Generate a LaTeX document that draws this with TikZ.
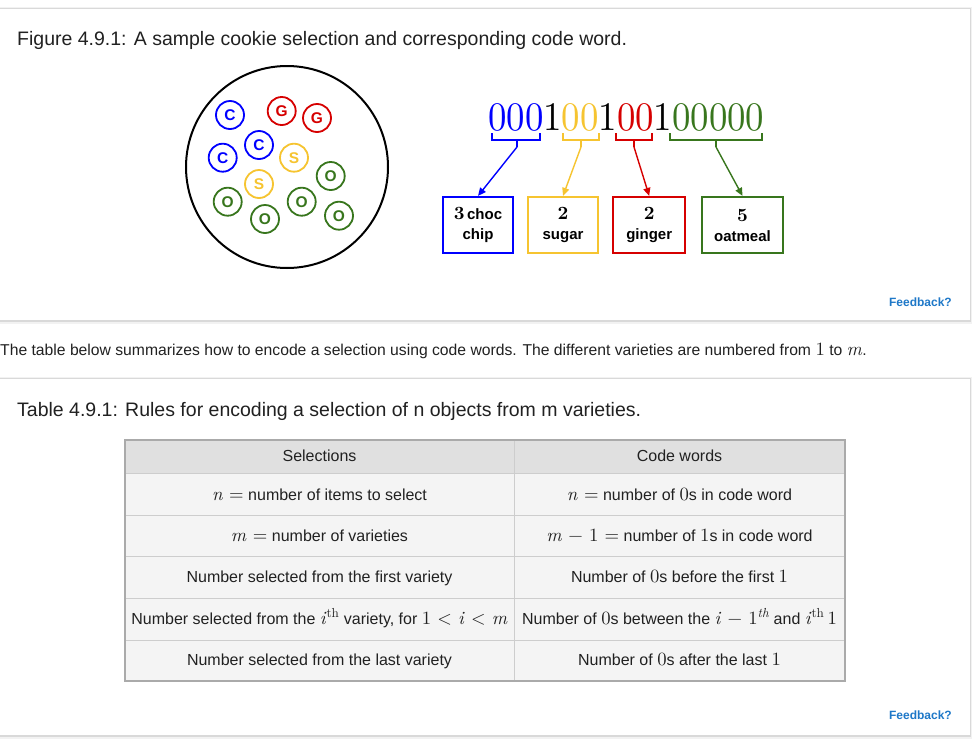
\documentclass[tikz,border=0pt]{standalone}
\usepackage{fontspec}
\setmainfont{Liberation Sans}
\newfontfamily\lmr{lmroman10}[Extension=.otf,UprightFont=*-regular,ItalicFont=*-italic,BoldFont=*-bold]
\usetikzlibrary{arrows.meta}
\definecolor{cblue}{RGB}{0,0,255}
\definecolor{cred}{RGB}{214,0,0}
\definecolor{cyel}{RGB}{246,196,48}
\definecolor{cgreen}{RGB}{56,118,29}
\definecolor{txt}{RGB}{33,33,33}
\definecolor{fb}{RGB}{30,120,200}
\definecolor{hdr}{RGB}{224,224,224}
\definecolor{rowbg}{RGB}{244,244,244}
\definecolor{outerc}{RGB}{170,170,170}
\definecolor{innerc}{RGB}{205,205,205}
\newcommand\mth[1]{{\lmr\fontsize{18.7}{19}\selectfont #1}}
\newcommand\vi[1]{\textit{#1}}
\tikzset{
  cookie/.style={circle,draw=#1,line width=1.8pt,minimum size=28pt,inner sep=0pt,text=#1,font=\fontsize{15.5}{15.5}\selectfont\bfseries},
  cbox/.style={draw=#1,line width=2.2pt,minimum height=56pt,inner sep=0pt,align=center,font=\fontsize{15}{20}\selectfont\bfseries,text=black},
  brk/.style={draw=#1,line width=2pt},
  arr/.style={draw=#1,line width=1.4pt,-{Triangle[length=8pt,width=7pt]}},
  captxt/.style={anchor=base west,inner sep=0pt,text=txt,font=\fontsize{19.5}{20}\selectfont},
  celltxt/.style={anchor=base,inner sep=0pt,text=txt,font=\fontsize{16}{16}\selectfont},
  fbtxt/.style={anchor=base east,inner sep=0pt,text=fb,font=\fontsize{12}{12}\selectfont\bfseries},
  card/.style={fill=white}
}
\begin{document}
\begin{tikzpicture}[x=1pt,y=-1pt]
\useasboundingbox (0,0) rectangle (977,742);
\fill[white] (0,0) rectangle (977,742);
% card 1
\fill[black!5] (-5,7) rectangle (972,324);
\fill[black!15] (-5,8) rectangle (971,322);
\fill[card] (-5,9) rectangle (970,320);
% card 2
\fill[black!5] (-5,377) rectangle (972,739);
\fill[black!15] (-5,378) rectangle (971,737);
\fill[card] (-5,379) rectangle (970,735);

\node[captxt] (fcap) at (17,45) {Figure 4.9.1: A sample cookie selection and corresponding code word.};

% cookie jar
\node[circle,draw=black,line width=2pt,minimum size=202pt,inner sep=0pt] (jar) at (287,167) {};
\node[cookie=cblue] (c1) at (230,115) {C};
\node[cookie=cred] (g1) at (281.7,111) {G};
\node[cookie=cred] (g2) at (317,118) {G};
\node[cookie=cblue] (c2) at (259,145) {C};
\node[cookie=cblue] (c3) at (222.7,157.7) {C};
\node[cookie=cyel] (s1) at (294,157.7) {S};
\node[cookie=cgreen] (o1) at (330.7,176) {O};
\node[cookie=cyel] (s2) at (259,184) {S};
\node[cookie=cgreen] (o2) at (227.7,201.7) {O};
\node[cookie=cgreen] (o3) at (301.7,201.7) {O};
\node[cookie=cgreen] (o4) at (265,219) {O};
\node[cookie=cgreen] (o5) at (339,215.7) {O};

% code word
\node[anchor=base west,inner sep=0pt] (cw) at (488,130) {\scalebox{1}[1.1]{\lmr\fontsize{36.8}{37}\selectfont\textcolor{cblue}{000}1\textcolor{cyel}{00}1\textcolor{cred}{00}1\textcolor{cgreen}{00000}}};

% brackets
\draw[brk=cblue] (491.7,133) -- (491.7,140) -- (540,140) -- (540,133);
\draw[brk=cblue] (517,140) -- (517,147);
\draw[brk=cyel] (562.7,133) -- (562.7,140) -- (599.3,140) -- (599.3,133);
\draw[brk=cyel] (581,140) -- (581,147);
\draw[brk=cred] (616,133) -- (616,140) -- (651.7,140) -- (651.7,133);
\draw[brk=cred] (634,140) -- (634,147);
\draw[brk=cgreen] (670,133) -- (670,140) -- (762,140) -- (762,133);
\draw[brk=cgreen] (716,140) -- (716,147);
\coordinate (k1) at (517,147);
\coordinate (k2) at (581,147);
\coordinate (k3) at (634,147);
\coordinate (k4) at (716,147);

% boxes
\node[cbox=cblue,minimum width=70.6pt] (b1) at (478,225) {\mth{3}\,choc\\chip};
\node[cbox=cyel,minimum width=70.6pt] (b2) at (563,225) {\mth{2}\\sugar};
\node[cbox=cred,minimum width=71.7pt] (b3) at (649.2,225) {\mth{2}\\ginger};
\node[cbox=cgreen,minimum width=81.6pt] (b4) at (742.5,225) {\mth{5}\\oatmeal};

\draw[arr=cblue] (k1) -- (b1.north);
\draw[arr=cyel] (k2) -- (b2.north);
\draw[arr=cred] (k3) -- (b3.north);
\draw[arr=cgreen] (k4) -- (b4.north);

\node[fbtxt] (fb1) at (952,306) {Feedback?};

% paragraph
\node[anchor=base west,inner sep=0pt,text=txt,font=\fontsize{15.7}{16}\selectfont] (para) at (0,355) {The table below summarizes how to encode a selection using code words. The different varieties are numbered from \mth{1} to \mth{\vi{m}}.};

\node[captxt] (tcap) at (17,416) {Table 4.9.1: Rules for encoding a selection of n objects from m varieties.};

% table
\fill[hdr] (125,440) rectangle (845,473);
\fill[rowbg] (125,473) rectangle (845,681);
\draw[innerc,line width=1pt] (125,473) -- (845,473) (125,515) -- (845,515) (125,556) -- (845,556) (125,598) -- (845,598) (125,640) -- (845,640) (514,440) -- (514,681);
\draw[outerc,line width=2pt] (125,440) rectangle (845,681);

\node[celltxt] (h1) at (319.5,461) {Selections};
\node[celltxt] (h2) at (679.5,461) {Code words};
\node[celltxt] (l1) at (319.5,500) {\mth{\vi{n} =} number of items to select};
\node[celltxt] (r1) at (679.5,500) {\mth{\vi{n} =} number of \mth{0}s in code word};
\node[celltxt] (l2) at (319.5,541) {\mth{\vi{m} =} number of varieties};
\node[celltxt] (r2) at (679.5,541) {\mth{\vi{m} − 1 =} number of \mth{1}s in code word};
\node[celltxt] (l3) at (319.5,582) {Number selected from the first variety};
\node[celltxt] (r3) at (679.5,582) {Number of \mth{0}s before the first \mth{1}};
\node[celltxt] (l4) at (319.5,624) {Number selected from the \mth{\vi{i}\textsuperscript{th}} variety, for \mth{1 < \vi{i} < \vi{m}}};
\node[celltxt] (r4) at (679.5,624) {Number of \mth{0}s between the \mth{\vi{i} − 1\textsuperscript{\itshape th}} and \mth{\vi{i}\textsuperscript{th}\,1}};
\node[celltxt] (l5) at (319.5,665) {Number selected from the last variety};
\node[celltxt] (r5) at (679.5,665) {Number of \mth{0}s after the last \mth{1}};

\node[fbtxt] (fb2) at (952,719) {Feedback?};
\end{tikzpicture}
\end{document}
